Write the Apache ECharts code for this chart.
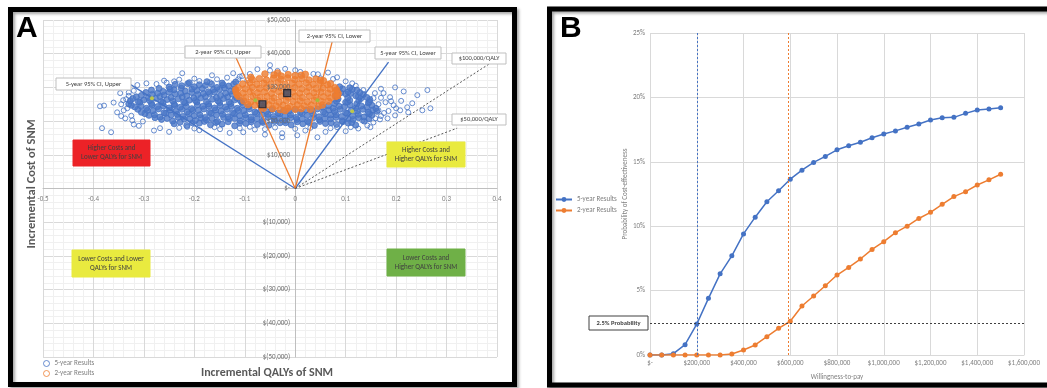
<!DOCTYPE html>
<html>
<head>
<meta charset="utf-8">
<script src="https://cdn.jsdelivr.net/npm/echarts@6/dist/echarts.min.js"></script>
<style>
  html, body { margin: 0; padding: 0; background: #fff; }
  #chart { width: 1047px; height: 388px; }
</style>
</head>
<body>
<div id="chart"></div>
<script>
  // ---------- panel A : cost-effectiveness plane (QALY, cost in $1000) ----------
  // sparse 5-year simulations (open circles)
  const fiveYearPoints = [
    [-0.387,24.4],[-0.379,24.6],[-0.383,17.9],[-0.365,16.7],[-0.353,22.6],[-0.341,26.2],[-0.337,20.8],
    [-0.333,23.8],[-0.323,20.2],[-0.313,30.7],[-0.347,28.3],[-0.224,34.2],[-0.169,31.5],[-0.165,33.6],
    [-0.123,34.2],[-0.113,32.4],[-0.095,32.1],[-0.149,17.6],[-0.214,18.3],[-0.268,17.9],[-0.302,19.9],
    [-0.36,25.5],[-0.345,21.5],[-0.33,27.5],[-0.32,29.0],[-0.31,18.6],[-0.295,31.2],[-0.28,17.2],
    [-0.26,32.0],[-0.25,16.8],[-0.24,31.8],[-0.2,32.6],[-0.19,17.3],[-0.13,16.5],
    [0.135,29.2],[0.155,26.8],[0.175,28.3],[0.188,27.1],[0.179,25.6],[0.195,24.7],[0.208,23.2],
    [0.165,23.2],[0.143,22.3],[0.133,20.2],[0.155,19.6],[0.183,20.8],[0.198,21.7],[0.198,30.0],
    [0.242,27.7],[0.262,29.2],[0.268,23.8],[0.252,23.2],[0.224,22.6],[0.222,24.1],[0.232,25.3],
    [0.17,29.6],[0.159,20.8],[0.143,18.7],[0.149,18.2],[0.083,18.2],[0.044,15.2],[0.004,15.8],
    [-0.026,15.2],[0.0,35.1],[0.083,33.0],[0.036,34.0],[0.05,32.7],[0.113,31.2],[-0.103,16.7],
    [-0.026,16.4],[-0.05,36.6],[0.12,30.5],[0.1,31.8],[0.21,26.0],[0.185,23.0],[0.17,21.5],
    [0.125,17.8],[0.1,17.0],[0.06,16.8],[-0.06,16.0],[-0.08,17.5],[0.02,17.2],[-0.035,34.9],
    [0.065,34.4],[-0.075,35.4],[0.215,28.8],
    [-0.275,31.0],[-0.255,31.4],[-0.23,32.3],[-0.19,31.9],[-0.155,32.4],[-0.135,32.9],[-0.105,33.4],
    [-0.23,18.0],[-0.2,17.8],[-0.16,18.2],[-0.11,17.9],[-0.09,18.3],[-0.06,17.6],[-0.04,18.1],
    [0.0,17.7],[0.03,18.0],[0.07,17.9],[0.11,18.2],
    [-0.34,23.2],[-0.345,25.0],[-0.335,26.5],[-0.33,28.5],[-0.325,21.6],[-0.32,19.0],
    [0.165,25.0],[0.17,26.9],[0.158,28.3],[0.176,22.4],[0.168,20.5],[0.19,25.9],[0.2,23.8],
    [-0.09,34.0],[-0.05,35.0],[-0.02,35.5],[0.01,34.6],[0.045,33.9],[0.075,32.5],[-0.11,33.2]
  ];
  // dense 5-year core (overlapping circles read as solid)
  const fiveYearCore = [
    [-0.24,19.2],[-0.215,18.7],[-0.19,19.4],[-0.168,18.9],[-0.145,19.1],[-0.12,18.6],[-0.098,19.3],
    [-0.075,19.0],[-0.052,18.8],[-0.03,19.5],[-0.008,18.9],[0.015,19.2],[0.038,18.7],[0.06,19.3],
    [0.082,19.0],[0.105,19.4],[0.12,18.8],
    [-0.228,19.7],[-0.204,19.5],[-0.18,19.9],[-0.157,19.6],[-0.133,19.8],[-0.11,19.4],[-0.087,19.8],
    [-0.064,19.6],[-0.041,19.9],[-0.019,19.5],[0.004,19.8],[0.027,19.6],[0.049,19.9],[0.071,19.5],
    [0.094,19.8],[0.112,19.6],
    [-0.265,20.5],[-0.243,20.0],[-0.22,20.6],[-0.198,20.2],[-0.176,20.4],[-0.154,19.9],[-0.131,20.7],
    [-0.109,20.1],[-0.087,20.4],[-0.065,20.0],[-0.042,20.6],[-0.02,20.2],[0.003,20.5],[0.025,19.9],
    [0.048,20.4],[0.07,20.7],[0.093,20.1],[0.115,20.5],[0.137,20.0],
    [-0.278,21.0],[-0.254,20.8],[-0.232,21.1],[-0.209,20.7],[-0.187,21.0],[-0.165,20.8],[-0.142,21.1],
    [-0.12,20.8],[-0.098,21.0],[-0.076,20.7],[-0.054,21.1],[-0.031,20.8],[-0.009,21.0],[0.014,20.7],
    [0.036,21.0],[0.059,20.8],[0.081,21.1],[0.104,20.8],[0.126,21.0],[0.146,20.7],
    [-0.29,21.7],[-0.268,21.2],[-0.246,21.8],[-0.223,21.4],[-0.2,21.6],[-0.178,21.1],[-0.156,21.8],
    [-0.133,21.3],[-0.11,21.6],[-0.088,21.2],[-0.066,21.9],[-0.043,21.4],[-0.02,21.5],[0.002,21.1],
    [0.024,21.7],[0.047,21.3],[0.07,21.8],[0.092,21.4],[0.114,21.6],[0.136,21.2],[0.152,21.7],
    [-0.298,22.2],[-0.279,21.9],[-0.257,22.3],[-0.234,22.0],[-0.211,22.2],[-0.189,21.9],[-0.167,22.3],
    [-0.144,22.0],[-0.121,22.2],[-0.099,21.9],[-0.077,22.3],[-0.054,22.0],[-0.031,22.2],[-0.009,21.9],
    [0.013,22.3],[0.036,22.0],[0.059,22.2],[0.081,21.9],[0.103,22.3],[0.125,22.0],[0.147,22.2],
    [-0.305,22.6],[-0.282,23.1],[-0.26,22.5],[-0.237,22.9],[-0.214,22.7],[-0.192,23.2],[-0.17,22.6],
    [-0.147,23.0],[-0.124,22.5],[-0.102,23.1],[-0.08,22.7],[-0.057,22.9],[-0.034,22.4],[-0.012,23.0],
    [0.01,22.6],[0.033,23.1],[0.056,22.7],[0.078,22.9],[0.1,22.5],[0.123,23.0],[0.145,22.7],[0.162,22.9],
    [-0.312,23.5],[-0.293,23.2],[-0.271,23.6],[-0.248,23.3],[-0.225,23.5],[-0.203,23.2],[-0.181,23.6],
    [-0.158,23.3],[-0.135,23.5],[-0.113,23.2],[-0.091,23.6],[-0.068,23.3],[-0.046,23.4],[-0.023,23.2],
    [0.0,23.5],[0.022,23.3],[0.044,23.6],[0.067,23.3],[0.089,23.5],[0.111,23.2],[0.134,23.5],[0.154,23.3],
    [-0.318,24.2],[-0.295,23.8],[-0.273,24.3],[-0.25,23.9],[-0.228,24.1],[-0.205,23.7],[-0.183,24.4],
    [-0.16,23.9],[-0.138,24.2],[-0.115,23.8],[-0.092,24.3],[0.055,24.1],[0.075,23.8],[0.098,24.3],
    [0.12,23.9],[0.142,24.2],[0.16,23.8],
    [-0.325,24.7],[-0.306,24.5],[-0.284,24.8],[-0.261,24.5],[-0.239,24.7],[-0.216,24.4],[-0.194,24.8],
    [-0.171,24.5],[-0.149,24.7],[-0.127,24.4],[-0.104,24.8],[0.066,24.6],[0.087,24.4],[0.109,24.8],
    [0.131,24.5],[0.152,24.7],
    [-0.33,25.1],[-0.308,25.6],[-0.285,25.2],[-0.262,25.5],[-0.24,25.0],[-0.218,25.4],[-0.195,25.7],
    [-0.172,25.1],[-0.15,25.5],[-0.128,25.2],[-0.106,25.6],[0.078,25.2],[0.1,25.6],[0.122,25.1],[0.145,25.4],
    [-0.327,26.0],[-0.311,25.8],[-0.289,26.1],[-0.266,25.8],[-0.243,26.0],[-0.221,25.7],[-0.198,26.1],
    [-0.176,25.8],[-0.153,26.0],[-0.131,25.7],[-0.109,26.1],[0.082,25.9],[0.104,25.7],[0.126,26.1],[0.147,25.8],
    [-0.322,26.7],[-0.3,26.3],[-0.277,26.8],[-0.254,26.4],[-0.232,26.6],[-0.21,26.2],[-0.187,26.9],
    [-0.164,26.5],[-0.142,26.7],[-0.12,26.3],[0.085,26.6],[0.108,26.2],[0.13,26.7],[0.148,26.4],
    [-0.315,27.2],[-0.291,27.0],[-0.268,27.3],[-0.246,27.0],[-0.224,27.2],[-0.201,26.9],[-0.178,27.3],
    [-0.156,27.0],[-0.134,27.2],[-0.116,26.9],[0.083,27.1],[0.104,26.9],[0.125,27.3],[0.142,27.0],
    [-0.305,27.6],[-0.283,28.0],[-0.26,27.7],[-0.238,28.1],[-0.215,27.5],[-0.193,27.9],[-0.17,28.2],
    [-0.148,27.6],[-0.125,28.0],[0.08,27.7],[0.1,28.1],[0.12,27.5],[0.135,27.9],
    [-0.296,28.5],[-0.273,28.3],[-0.25,28.6],[-0.227,28.3],[-0.205,28.5],[-0.182,28.2],[-0.16,28.6],
    [-0.138,28.3],[0.09,28.4],[0.11,28.2],[0.128,28.5],
    [-0.285,29.2],[-0.262,28.8],[-0.24,29.3],[-0.218,28.9],[-0.195,29.1],[-0.172,28.7],[-0.15,29.4],
    [-0.128,28.9],[0.083,29.1],[0.105,28.7],[0.122,29.2],
    [-0.27,29.7],[-0.248,29.5],[-0.226,29.8],[-0.205,29.5],[-0.184,29.7],[-0.162,29.4],[-0.14,29.8],
    [-0.12,29.5],[0.094,29.6],[0.113,29.4],
    [-0.25,30.1],[-0.225,30.5],[-0.2,30.2],[-0.178,30.6],[-0.155,30.0],[-0.132,30.4],[0.088,30.2],[0.108,29.9],
    [-0.238,30.9],[-0.213,31.1],[-0.19,30.8],[-0.166,31.0],[-0.143,30.8],[-0.122,31.0],
    [-0.21,31.4],[-0.175,31.7],[-0.145,31.3],[-0.118,31.6]
  ];

  const twoYearPoints = [
    [-0.042,33.7],[-0.028,33.4],[-0.014,33.8],[0.0,33.5],[0.012,33.6],
    [-0.085,32.3],[-0.071,32.6],[-0.057,32.2],[-0.043,32.7],[-0.029,32.4],[-0.015,32.8],[-0.001,32.3],
    [0.013,32.6],[0.027,32.2],[0.041,32.5],[0.05,32.1],
    [-0.104,31.0],[-0.09,31.3],[-0.076,30.9],[-0.062,31.2],[-0.048,31.0],[-0.034,31.4],[-0.02,30.9],
    [-0.006,31.2],[0.008,31.0],[0.022,31.3],[0.036,30.9],[0.05,31.2],[0.064,30.8],[0.07,31.1],
    [-0.113,29.9],[-0.099,29.6],[-0.085,30.0],[-0.071,29.7],[-0.057,29.9],[-0.043,29.5],[-0.029,30.0],
    [-0.015,29.7],[-0.001,29.9],[0.013,29.6],[0.027,30.0],[0.041,29.7],[0.055,29.8],[0.069,29.5],[0.079,29.9],
    [-0.117,28.6],[-0.103,28.3],[-0.089,28.7],[-0.075,28.4],[-0.061,28.6],[-0.047,28.2],[-0.033,28.7],
    [-0.019,28.4],[-0.005,28.6],[0.009,28.3],[0.023,28.7],[0.037,28.4],[0.051,28.6],[0.065,28.3],
    [0.079,28.5],[0.085,28.2],
    [-0.112,27.3],[-0.098,27.0],[-0.084,27.4],[-0.07,27.1],[-0.056,27.3],[-0.042,26.9],[-0.028,27.4],
    [-0.014,27.1],[0.0,27.3],[0.014,27.0],[0.028,27.4],[0.042,27.1],[0.056,27.2],[0.07,26.9],[0.08,27.3],
    [-0.102,26.0],[-0.088,25.7],[-0.074,26.1],[-0.06,25.8],[-0.046,26.0],[-0.032,25.6],[-0.018,26.1],
    [-0.004,25.8],[0.01,26.0],[0.024,25.7],[0.038,26.1],[0.052,25.8],[0.066,25.9],
    [-0.08,24.7],[-0.066,24.4],[-0.052,24.8],[-0.038,24.5],[-0.024,24.7],[-0.01,24.3],[0.004,24.8],
    [0.018,24.5],[0.032,24.7],[0.046,24.4],
    [-0.045,23.7],[-0.03,23.4],[-0.015,23.8],[0.0,23.5],[0.012,23.7],
    [-0.118,29.3],[-0.115,27.8],[0.084,27.5],[0.082,29.2],[-0.06,34.0],[0.02,33.9],[-0.088,33.0],
    [0.056,32.0],[-0.094,24.9],[0.054,24.8],[-0.02,23.1],[-0.063,23.8],[0.03,23.5],[-0.035,34.3]
  ];

  const meanPoints = [[-0.065, 25.0], [-0.016, 28.3]];
  const ciYellowPoints = [[-0.284, 26.8], [0.113, 22.9]];
  const ciGreenPoints = [[-0.079, 26.2], [0.044, 26.2]];

  const fiveYearUpper = [[0, 0], [-0.327, 30.9]];
  const fiveYearLower = [[0, 0], [0.185, 37.5]];
  const twoYearUpper = [[0, 0], [-0.118, 39.0]];
  const twoYearLower = [[0, 0], [0.0765, 45.5]];
  const wtp100k = [[0, 0], [0.387, 37.2]];
  const wtp50k = [[0, 0], [0.321, 17.9]];

  // ---------- panel B : acceptability curve ----------
  const wtp = [0, 50000, 100000, 150000, 200000, 250000, 300000, 350000, 400000, 450000,
    500000, 550000, 600000, 650000, 700000, 750000, 800000, 850000, 900000, 950000,
    1000000, 1050000, 1100000, 1150000, 1200000, 1250000, 1300000, 1350000, 1400000, 1450000, 1500000];
  const fiveYearProb = [0, 0, 0.1, 0.8, 2.4, 4.4, 6.3, 7.7, 9.4, 10.7, 11.9, 12.75, 13.65, 14.35, 14.95,
    15.42, 15.93, 16.25, 16.52, 16.87, 17.16, 17.4, 17.68, 17.93, 18.25, 18.42, 18.45, 18.76, 19.02, 19.1, 19.2];
  const twoYearProb = [0, 0, 0, 0, 0, 0, 0, 0.08, 0.39, 0.78, 1.42, 2.07, 2.62, 3.8, 4.58, 5.38, 6.21,
    6.8, 7.45, 8.2, 8.8, 9.5, 10.0, 10.6, 11.08, 11.7, 12.3, 12.68, 13.2, 13.6, 14.03];
  const fiveYearThreshold = 200000;
  const twoYearThreshold = 590000;
  const probabilityLine = 2.5;

  const FONT = 'Carlito, Lato, sans-serif';
  const BLUE = '#4472c4';
  const ORANGE = '#ed7d31';
  const GRID = '#d9d9d9';
  const LABEL = '#7f7f7f';

  function money(v) {
    if (v === 0) return '$-';
    return '$' + Math.abs(v).toLocaleString('en-US');
  }
  function costLabel(v) {
    if (v === 0) return '$-';
    return v > 0 ? '$' + (v * 1000).toLocaleString('en-US') : '$(' + (-v * 1000).toLocaleString('en-US') + ')';
  }

  // label box (rect + centred text) for the graphic layer
  function box(x, y, w, h, text, fill, stroke, fontSize, bold) {
    return {
      type: 'group', x: x, y: y,
      children: [
        { type: 'rect', z: 50, shape: { x: 0, y: 0, width: w, height: h },
          style: { fill: fill, stroke: stroke || fill, lineWidth: 1 } },
        { type: 'text', z: 51, x: w / 2, y: h / 2,
          style: { text: text, fill: '#404040', fontSize: fontSize || 6.5, fontFamily: FONT,
            fontWeight: bold ? 'bold' : 'normal', align: 'center', verticalAlign: 'middle', lineHeight: 9 } }
      ]
    };
  }

  const chart = echarts.init(document.getElementById('chart'));

  const lineSeries = (name, data, color, width, type) => ({
    name: name, type: 'line', xAxisIndex: 0, yAxisIndex: 0, data: data,
    symbol: 'none', silent: true, z: 4,
    lineStyle: { color: color, width: width, type: type || 'solid' }
  });

  const option = {
    animation: false,
    backgroundColor: '#fff',
    textStyle: { fontFamily: FONT },
    grid: [
      { left: 43, top: 20, width: 454, height: 337 },
      { left: 650, top: 33, width: 374, height: 322 }
    ],
    xAxis: [
      {
        // axis drawn through cost = 0 (grid bottom 357 -> y 188)
        gridIndex: 0, type: 'value', min: -0.5, max: 0.4, interval: 0.1, offset: -169,
        axisLine: { onZero: false, lineStyle: { color: '#bfbfbf' } },
        axisTick: { show: false },
        axisLabel: { fontSize: 7, color: LABEL, margin: 8,
          formatter: v => (Math.abs(v) < 1e-9 ? '0' : String(+v.toFixed(1))) },
        splitLine: { lineStyle: { color: GRID } },
        minorTick: { show: false, splitNumber: 5 },
        minorSplitLine: { show: true, lineStyle: { color: '#f0f0f0' } }
      },
      {
        gridIndex: 1, type: 'value', min: 0, max: 1600000, interval: 200000,
        name: 'Willingness-to-pay', nameLocation: 'middle', nameGap: 19,
        nameTextStyle: { fontSize: 7, color: LABEL },
        axisLine: { show: true, lineStyle: { color: GRID } },
        axisTick: { show: false },
        axisLabel: { fontSize: 7, color: LABEL, margin: 5, formatter: money },
        splitLine: { lineStyle: { color: GRID } }
      }
    ],
    yAxis: [
      {
        // grid lines + axis line through QALY = 0 (grid left 43 -> x 295)
        gridIndex: 0, type: 'value', position: 'left', min: -50, max: 50, interval: 10, offset: -252,
        axisLine: { onZero: false, lineStyle: { color: '#bfbfbf' } },
        axisTick: { show: false },
        axisLabel: { show: false },
        splitLine: { lineStyle: { color: GRID } },
        minorTick: { show: false, splitNumber: 5 },
        minorSplitLine: { show: true, lineStyle: { color: '#f0f0f0' } }
      },
      {
        gridIndex: 1, type: 'value', min: 0, max: 25, interval: 5,
        name: 'Probability of Cost-effectiveness', nameLocation: 'middle', nameGap: 20,
        nameTextStyle: { fontSize: 7, color: LABEL },
        axisLine: { show: false },
        axisTick: { show: false },
        axisLabel: { fontSize: 7, color: LABEL, margin: 5, formatter: '{value}%' },
        splitLine: { lineStyle: { color: GRID } }
      },
      {
        // cost labels drawn above the point clouds
        gridIndex: 0, type: 'value', position: 'left', min: -50, max: 50, interval: 10, offset: -252, z: 10,
        axisLine: { show: false }, axisTick: { show: false },
        splitLine: { show: false },
        axisLabel: { fontSize: 7, color: '#6f6f6f', margin: 5, formatter: costLabel }
      }
    ],
    legend: [
      {
        left: 43, top: 360, orient: 'vertical', padding: 0, itemWidth: 6, itemHeight: 6, itemGap: 3,
        textStyle: { fontSize: 7, color: LABEL, fontFamily: FONT },
        data: [
          { name: '5-year Results', icon: 'circle',
            itemStyle: { color: 'rgba(0,0,0,0)', borderColor: BLUE, borderWidth: 1 } },
          { name: '2-year Results', icon: 'circle',
            itemStyle: { color: 'rgba(0,0,0,0)', borderColor: ORANGE, borderWidth: 1 } }
        ]
      },
      {
        left: 555, top: 196, orient: 'vertical', padding: 0, itemWidth: 16, itemHeight: 6, itemGap: 4,
        textStyle: { fontSize: 7, color: LABEL, fontFamily: FONT },
        data: ['5-year Results ', '2-year Results ']
      }
    ],
    series: [
      {
        name: '5-year Results', type: 'scatter', xAxisIndex: 0, yAxisIndex: 0,
        data: fiveYearPoints, symbol: 'circle', symbolSize: 5, silent: true, z: 2,
        itemStyle: { color: 'rgba(0,0,0,0)', borderColor: BLUE, borderWidth: 1 }
      },
      {
        name: '5-year Results', type: 'scatter', xAxisIndex: 0, yAxisIndex: 0,
        data: fiveYearCore, symbol: 'circle', symbolSize: 6, silent: true, z: 2,
        itemStyle: { color: '#4d79c8', borderColor: BLUE, borderWidth: 1 }
      },
      {
        name: '2-year Results', type: 'scatter', xAxisIndex: 0, yAxisIndex: 0,
        data: twoYearPoints, symbol: 'circle', symbolSize: 6.5, silent: true, z: 3,
        itemStyle: { color: ORANGE, borderColor: ORANGE, borderWidth: 1 }
      },
      lineSeries('ci5u', fiveYearUpper, BLUE, 1.3),
      lineSeries('ci5l', fiveYearLower, BLUE, 1.3),
      lineSeries('ci2u', twoYearUpper, ORANGE, 1.3),
      lineSeries('ci2l', twoYearLower, ORANGE, 1.3),
      lineSeries('wtp100', wtp100k, '#595959', 1, [2, 2]),
      lineSeries('wtp50', wtp50k, '#595959', 1, [2, 2]),
      {
        name: 'ciY', type: 'scatter', xAxisIndex: 0, yAxisIndex: 0, data: ciYellowPoints,
        symbolSize: 4, silent: true, z: 5, itemStyle: { color: '#d9d92b' }
      },
      {
        name: 'ciG', type: 'scatter', xAxisIndex: 0, yAxisIndex: 0, data: ciGreenPoints,
        symbolSize: 4, silent: true, z: 5, itemStyle: { color: '#92c83e' }
      },
      {
        name: 'mean', type: 'scatter', xAxisIndex: 0, yAxisIndex: 0, data: meanPoints,
        symbol: 'rect', symbolSize: 7, silent: true, z: 6,
        itemStyle: { color: '#3c4a68', borderColor: '#111a2a', borderWidth: 1.2 }
      },
      {
        name: '5-year Results ', type: 'line', xAxisIndex: 1, yAxisIndex: 1,
        data: wtp.map((w, i) => [w, fiveYearProb[i]]),
        symbol: 'circle', symbolSize: 5, silent: true, z: 4,
        lineStyle: { color: BLUE, width: 1.5 }, itemStyle: { color: BLUE },
        markLine: {
          silent: true, symbol: 'none', label: { show: false },
          data: [
            { xAxis: fiveYearThreshold, lineStyle: { color: BLUE, type: [2, 2], width: 1 } },
            { yAxis: probabilityLine, lineStyle: { color: '#404040', type: [2, 2], width: 1 } }
          ]
        }
      },
      {
        name: '2-year Results ', type: 'line', xAxisIndex: 1, yAxisIndex: 1,
        data: wtp.map((w, i) => [w, twoYearProb[i]]),
        symbol: 'circle', symbolSize: 5, silent: true, z: 4,
        lineStyle: { color: ORANGE, width: 1.5 }, itemStyle: { color: ORANGE },
        markLine: {
          silent: true, symbol: 'none', label: { show: false },
          data: [
            { xAxis: twoYearThreshold, lineStyle: { color: ORANGE, type: [2, 2], width: 1 } }
          ]
        }
      }
    ],
    graphic: [
      // panel frames
      { type: 'rect', z: 100, shape: { x: 10.5, y: 9.5, width: 504, height: 375 },
        style: { fill: 'none', stroke: '#000', lineWidth: 5,
          shadowBlur: 3, shadowColor: 'rgba(0,0,0,0.35)', shadowOffsetX: 2, shadowOffsetY: 2 } },
      { type: 'rect', z: 100, shape: { x: 549.5, y: 9, width: 520, height: 376 },
        style: { fill: 'none', stroke: '#000', lineWidth: 5,
          shadowBlur: 3, shadowColor: 'rgba(0,0,0,0.35)', shadowOffsetX: 2, shadowOffsetY: 2 } },
      // panel letters
      { type: 'text', x: 16, y: 14, z: 60,
        style: { text: 'A', fill: '#000', fontSize: 30, fontWeight: 'bold', fontFamily: 'Liberation Sans, Arial, sans-serif' } },
      { type: 'text', x: 560, y: 14, z: 60,
        style: { text: 'B', fill: '#000', fontSize: 30, fontWeight: 'bold', fontFamily: 'Liberation Sans, Arial, sans-serif' } },
      // panel A axis titles
      { type: 'text', x: 32, y: 184, rotation: Math.PI / 2, z: 60,
        style: { text: 'Incremental Cost of SNM', fill: '#595959', fontSize: 12.5, fontWeight: 'bold',
          fontFamily: FONT, align: 'center', verticalAlign: 'middle' } },
      { type: 'text', x: 267, y: 373, z: 60,
        style: { text: 'Incremental QALYs of SNM', fill: '#595959', fontSize: 12, fontWeight: 'bold',
          fontFamily: FONT, align: 'center', verticalAlign: 'middle' } },
      // CI / threshold labels
      box(185, 46, 76, 12, '2-year 95% CI, Upper', '#fff', '#bfbfbf'),
      box(299, 30, 71, 12, '2-year 95% CI, Lower', '#fff', '#bfbfbf'),
      box(56, 78, 75, 12, '5-year 95% CI, Upper', '#fff', '#bfbfbf'),
      box(375, 47, 66, 12, '5-year 95% CI, Lower', '#fff', '#bfbfbf'),
      box(452, 53, 54, 11, '$100,000/QALY', '#fff', '#bfbfbf'),
      box(452, 114, 54, 11, '$50,000/QALY', '#fff', '#bfbfbf'),
      // quadrant labels
      box(73, 140, 77, 26, 'Higher Costs and\nLower QALYs for SNM', '#ec2227', null, 7),
      box(387, 142, 78, 25, 'Higher Costs and\nHigher QALYs for SNM', '#e9ea3f', null, 7),
      box(72, 250, 78, 27, 'Lower Costs and Lower\nQALYs for SNM', '#e9ea3f', null, 7),
      box(387, 249, 78, 27, 'Lower Costs and\nHigher QALYs for SNM', '#6fb047', null, 7),
      // panel B probability label
      box(589, 316, 59, 14, '2.5% Probability', '#fff', '#404040', 6.5, true)
    ]
  };

  chart.setOption(option);
</script>
</body>
</html>
